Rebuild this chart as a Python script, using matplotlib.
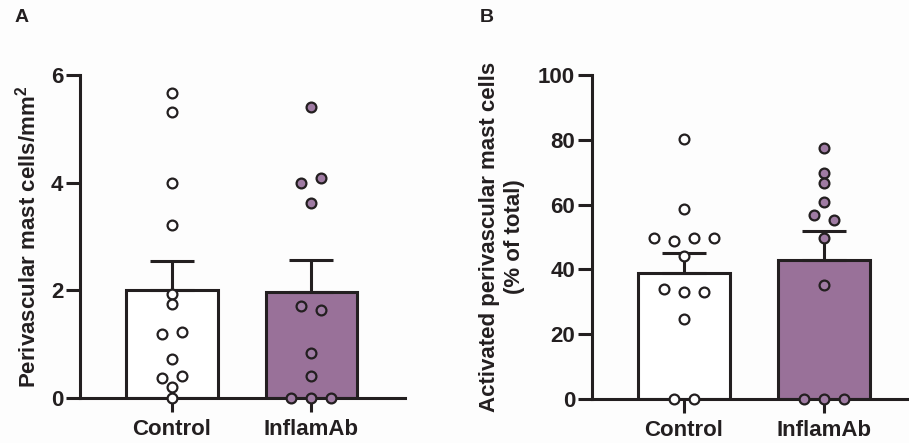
import numpy as np
import matplotlib
matplotlib.use("Agg")
import matplotlib.pyplot as plt

plt.rcParams['font.family'] = ['Liberation Sans', 'DejaVu Sans']
plt.rcParams['font.weight'] = 'bold'
plt.rcParams['mathtext.fontset'] = 'custom'
plt.rcParams['mathtext.rm'] = 'Liberation Sans:bold'
plt.rcParams['mathtext.bf'] = 'Liberation Sans:bold'

groups = ['Control', 'InflamAb']

# panel A: perivascular mast cells / mm^2
ctrl_a = [5.66, 5.32, 4.0, 3.21, 1.94, 1.75, 1.18, 1.23, 0.72, 0.37, 0.41, 0.21, 0.0]
infl_a = [5.40, 4.0, 4.08, 3.62, 1.71, 1.64, 0.84, 0.41, 0.0, 0.0, 0.0]

# panel B: activated perivascular mast cells (% of total)
ctrl_b = [80.2, 58.6, 49.8, 48.9, 49.8, 49.8, 44.1, 34.0, 33.0, 33.0, 24.7, 0.0, 0.0]
infl_b = [77.6, 69.7, 66.6, 60.9, 56.8, 55.3, 49.8, 35.2, 0.0, 0.0, 0.0]

edge = '#231f20'
purple = '#997199'
purple_pt = '#9f7ba3'
lw = 2.2
fs = 16


def spread(vals, tol, step=0.145):
    # graphpad-like: values close together are put side by side
    order = sorted(range(len(vals)), key=lambda i: vals[i])
    bins = []
    for i in order:
        if bins and vals[i] - vals[bins[-1][0]] < tol:
            bins[-1].append(i)
        else:
            bins.append([i])
    dx = np.zeros(len(vals))
    for b in bins:
        b = sorted(b)
        n = len(b)
        for k, i in enumerate(b):
            dx[i] = (k - (n - 1) / 2) * step
    return dx


def panel(ax, data, fills, ptfills, tol, ymax, yticks, xlim):
    for i, (vals, fc, pc) in enumerate(zip(data, fills, ptfills)):
        vals = np.array(vals)
        m = vals.mean()
        sem = vals.std(ddof=1) / np.sqrt(len(vals))
        ax.bar(i, m, width=0.655, color=fc, edgecolor=edge, linewidth=lw, zorder=2)
        ax.errorbar(i, m, yerr=[[0], [sem]], color=edge, elinewidth=lw,
                    capsize=16, capthick=lw, zorder=3)
        ax.scatter(i + spread(vals, tol), vals, s=50, facecolor=pc,
                   edgecolor=edge, linewidth=1.6, zorder=4, clip_on=False)
    ax.set_xlim(*xlim)
    ax.set_ylim(0, ymax)
    ax.set_yticks(yticks)
    ax.set_xticks([0, 1])
    ax.set_xticklabels(groups)
    for s in ['top', 'right']:
        ax.spines[s].set_visible(False)
    for s in ['left', 'bottom']:
        ax.spines[s].set_linewidth(lw)
        ax.spines[s].set_color(edge)
    ax.tick_params(axis='both', length=10, width=lw, color=edge,
                   labelsize=fs, labelcolor=edge)
    ax.tick_params(axis='y', pad=2)
    ax.tick_params(axis='x', pad=5)
    for t in ax.get_xticklabels() + ax.get_yticklabels():
        t.set_fontweight('bold')


fig = plt.figure(figsize=(9.09, 4.43), dpi=100)
fig.patch.set_facecolor('#fdfdfd')

ax1 = fig.add_axes([80 / 909, 45 / 443, 325 / 909, 323 / 443])
ax1.set_facecolor('none')
panel(ax1, [ctrl_a, infl_a], ['white', purple], ['white', purple_pt],
      0.13, 6, [0, 2, 4, 6], (-0.662, 1.676))
ax1.set_ylabel('Perivascular mast cells/mm$^2$', fontsize=fs,
               fontweight='bold', color=edge)
ax1.yaxis.set_label_coords(-39 / 325, 0.5)

ax2 = fig.add_axes([591.7 / 909, 44 / 443, 317.3 / 909, 324 / 443])
ax2.set_facecolor('none')
panel(ax2, [ctrl_b, infl_b], ['white', purple], ['white', purple_pt],
      2.2, 100, [0, 20, 40, 60, 80, 100], (-0.659, 1.607))
ax2.set_ylabel('Activated perivascular mast cells\n(% of total)', fontsize=fs,
               fontweight='bold', color=edge, linespacing=1.2)
ax2.yaxis.set_label_coords(-67 / 317.3, 0.5)

fig.text(22 / 909, 1 - 18 / 443, 'A', fontsize=14, fontweight='bold',
         color=edge, ha='center', va='center')
fig.text(487 / 909, 1 - 18 / 443, 'B', fontsize=14, fontweight='bold',
         color=edge, ha='center', va='center')

fig.savefig('out.png', dpi=100, facecolor=fig.get_facecolor())
